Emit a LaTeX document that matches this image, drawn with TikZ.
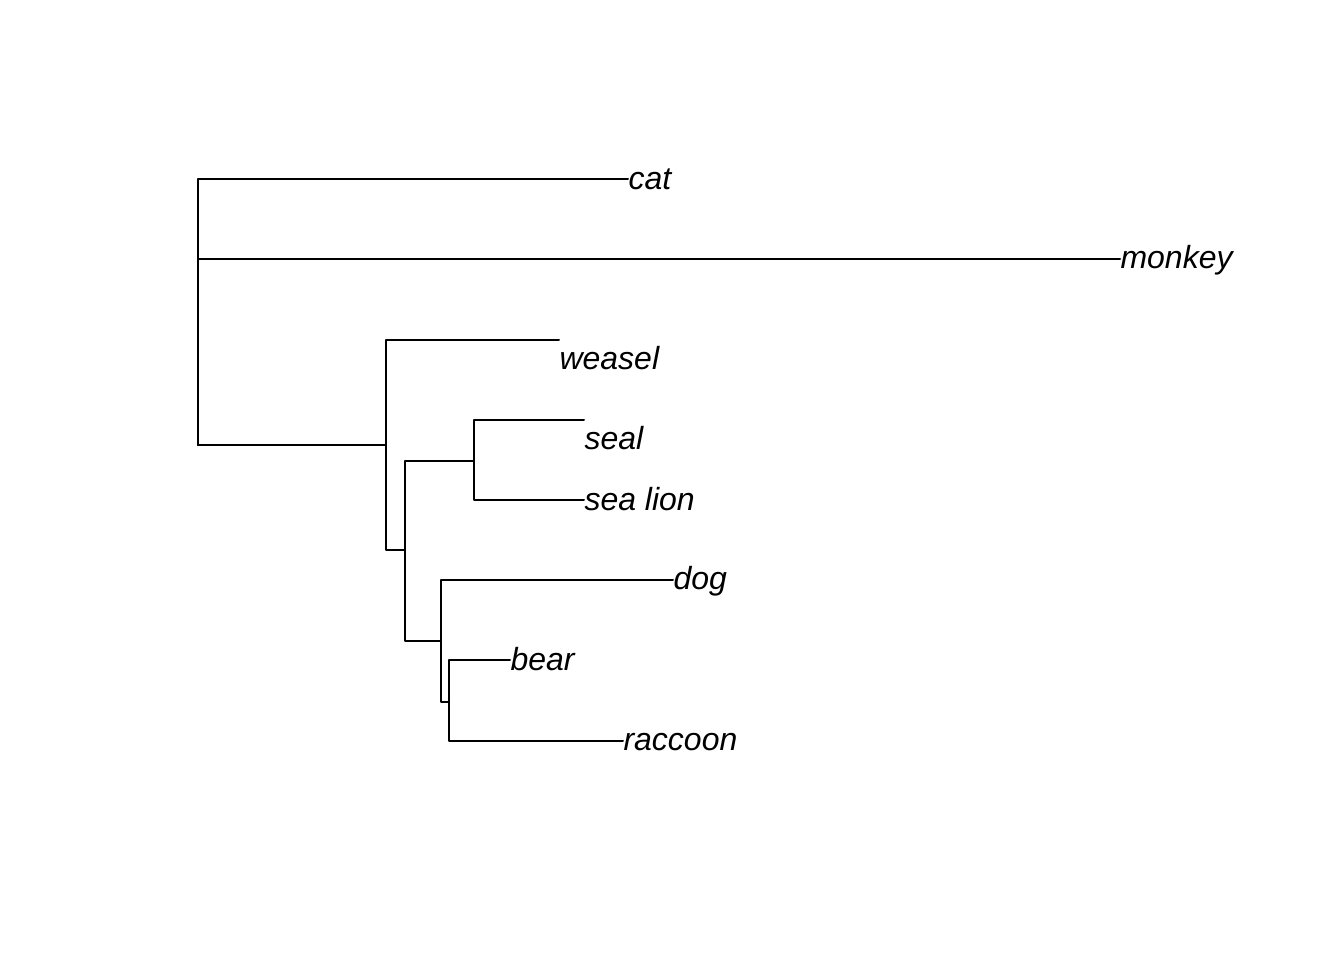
\documentclass[tikz,border=0pt]{standalone}
\usepackage{fontspec}
\setmainfont{Liberation Sans}
\begin{document}
\begin{tikzpicture}[x=0.375pt,y=-0.375pt,
  branch/.style={draw=black,line width=0.75pt,line cap=round,line join=round},
  tiplabel/.style={anchor=base west,inner sep=0pt,font=\fontsize{12pt}{14pt}\selectfont\itshape}]
\useasboundingbox (0,0) rectangle (1344,960);
% internal nodes
\coordinate (r) at (198,445);
\coordinate (n1) at (386,445);
\coordinate (n2) at (405,550);
\coordinate (n3) at (474,461);
\coordinate (n4) at (441,641);
\coordinate (n5) at (449,702);
% tips
\coordinate (cat) at (628,179);
\coordinate (monkey) at (1120,259);
\coordinate (weasel) at (559,340);
\coordinate (seal) at (584,420);
\coordinate (sealion) at (584,500);
\coordinate (dog) at (673,580);
\coordinate (bear) at (510,660);
\coordinate (raccoon) at (623,741);
% branches
\draw[branch] (r) |- (cat);
\draw[branch] (r) |- (monkey);
\draw[branch] (r) -- (n1);
\draw[branch] (n1) |- (weasel);
\draw[branch] (n1) |- (n2);
\draw[branch] (n2) |- (n3);
\draw[branch] (n2) |- (n4);
\draw[branch] (n3) |- (seal);
\draw[branch] (n3) |- (sealion);
\draw[branch] (n4) |- (dog);
\draw[branch] (n4) |- (n5);
\draw[branch] (n5) |- (bear);
\draw[branch] (n5) |- (raccoon);
% labels
\node[tiplabel] (lcat) at (628,189) {cat};
\node[tiplabel] (lmonkey) at (1120,268) {monkey};
\node[tiplabel] (lweasel) at (559,369) {weasel};
\node[tiplabel] (lseal) at (584,449) {seal};
\node[tiplabel] (lsealion) at (584,510) {sea lion};
\node[tiplabel] (ldog) at (673,589) {dog};
\node[tiplabel] (lbear) at (510,670) {bear};
\node[tiplabel] (lraccoon) at (623,750) {raccoon};
\end{tikzpicture}
\end{document}
